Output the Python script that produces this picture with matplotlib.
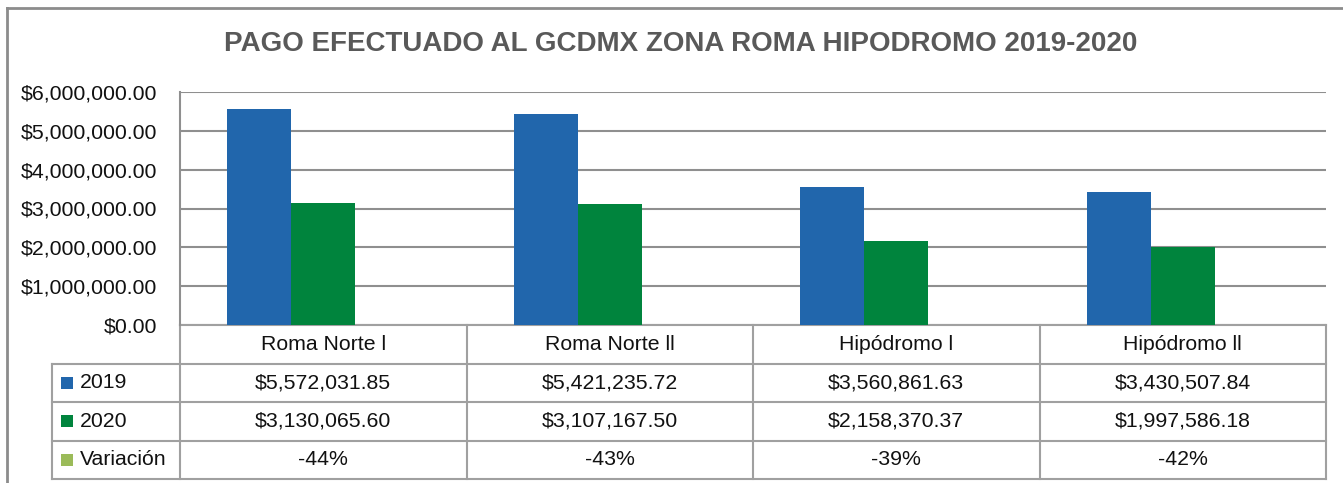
import matplotlib
matplotlib.use('Agg')
import matplotlib.pyplot as plt
import matplotlib.transforms as mtransforms
from matplotlib.patches import Rectangle
import numpy as np

FS = 15.3
plt.rcParams.update({
    'font.family': 'Liberation Sans',
    'font.size': FS,
})

# ── Data ─────────────────────────────────────────────────────────────────────
categorias = ['Roma Norte l', 'Roma Norte ll', 'Hipódromo l', 'Hipódromo ll']
pago_2019 = [5572031.85, 5421235.72, 3560861.63, 3430507.84]
pago_2020 = [3130065.60, 3107167.50, 2158370.37, 1997586.18]
variacion = [-0.44, -0.43, -0.39, -0.42]

series = ['2019', '2020', 'Variación']
COLORS = ['#2166AC', '#00843D', '#9BBB59']

W, H = 1343, 483
fig = plt.figure(figsize=(W / 100, H / 100), dpi=100)

# chart outer frame (Excel chart area border)
fig.add_artist(plt.Line2D([7 / W, 7 / W], [0, 1 - 8 / H], transform=fig.transFigure,
                          color='#8c8c8c', lw=2))
fig.add_artist(plt.Line2D([7 / W, 1], [1 - 8 / H, 1 - 8 / H], transform=fig.transFigure,
                          color='#8c8c8c', lw=2))

# plot area
left, right, top, bottom = 180, 1326, 92, 325
ax = fig.add_axes([left / W, 1 - bottom / H, (right - left) / W, (bottom - top) / H])

x = np.arange(len(categorias))
bw = 0.2234
ax.bar(x - bw, pago_2019, bw, color=COLORS[0], zorder=3)
ax.bar(x, pago_2020, bw, color=COLORS[1], zorder=3)
ax.bar(x + bw, variacion, bw, color=COLORS[2], zorder=3)

ax.set_xlim(-0.5, len(categorias) - 0.5)
ax.set_ylim(0, 6000000)
ax.set_yticks(np.arange(0, 6000001, 1000000))
ax.set_yticklabels([f'${v:,.2f}' for v in np.arange(0, 6000001, 1000000)])
ax.yaxis.grid(True, color='#8f8f8f', lw=1.5, zorder=0)
ax.set_xticks([])
ax.tick_params(axis='y', length=0, pad=16.5, labelsize=FS, labelcolor='#111111')
for s in ['top', 'right', 'bottom']:
    ax.spines[s].set_visible(False)
ax.spines['left'].set_color('#8f8f8f')
ax.spines['left'].set_linewidth(1.5)

# ── Data table below the plot ────────────────────────────────────────────────
trans = mtransforms.blended_transform_factory(ax.transData, ax.transAxes)
row_h = 38.5 / (bottom - top)
col_w_px = (right - left) / len(categorias)
x_tab_left = -0.5 - (left - 52) / col_w_px
line_kw = dict(color='#a0a0a0', lw=1.5, transform=trans, clip_on=False)
n = len(categorias)

# horizontal lines
ax.plot([-0.5, n - 0.5], [0, 0], **line_kw)
for r in range(1, 5):
    ax.plot([x_tab_left, n - 0.5], [-r * row_h, -r * row_h], **line_kw)
# vertical lines
for c in range(n + 1):
    ax.plot([c - 0.5, c - 0.5], [0, -4 * row_h], **line_kw)
ax.plot([x_tab_left, x_tab_left], [-row_h, -4 * row_h], **line_kw)

# category labels
for i, cat in enumerate(categorias):
    ax.text(i, -0.5 * row_h, cat, ha='center', va='center', transform=trans,
            fontsize=FS, color='#111111')

rows = [
    [f'${v:,.2f}' for v in pago_2019],
    [f'${v:,.2f}' for v in pago_2020],
    [f'{v:.0%}' for v in variacion],
]
key_px = 12 / col_w_px
for r, (name, vals) in enumerate(zip(series, rows)):
    yc = -(r + 1.5) * row_h
    ax.add_patch(Rectangle((x_tab_left + 9 / col_w_px, yc - 6 / (bottom - top)), key_px,
                           12 / (bottom - top), transform=trans, clip_on=False,
                           facecolor=COLORS[r], edgecolor='none'))
    ax.text(x_tab_left + 28 / col_w_px, yc, name, ha='left', va='center',
            transform=trans, fontsize=FS, color='#111111')
    for i, v in enumerate(vals):
        ax.text(i, yc, v, ha='center', va='center', transform=trans,
                fontsize=FS, color='#111111')

fig.text(681 / W, 1 - 44 / H, 'PAGO EFECTUADO AL GCDMX ZONA ROMA HIPODROMO 2019-2020',
         ha='center', va='center', fontsize=20, fontweight='bold', color='#595959')

fig.savefig('out.png', dpi=100)
